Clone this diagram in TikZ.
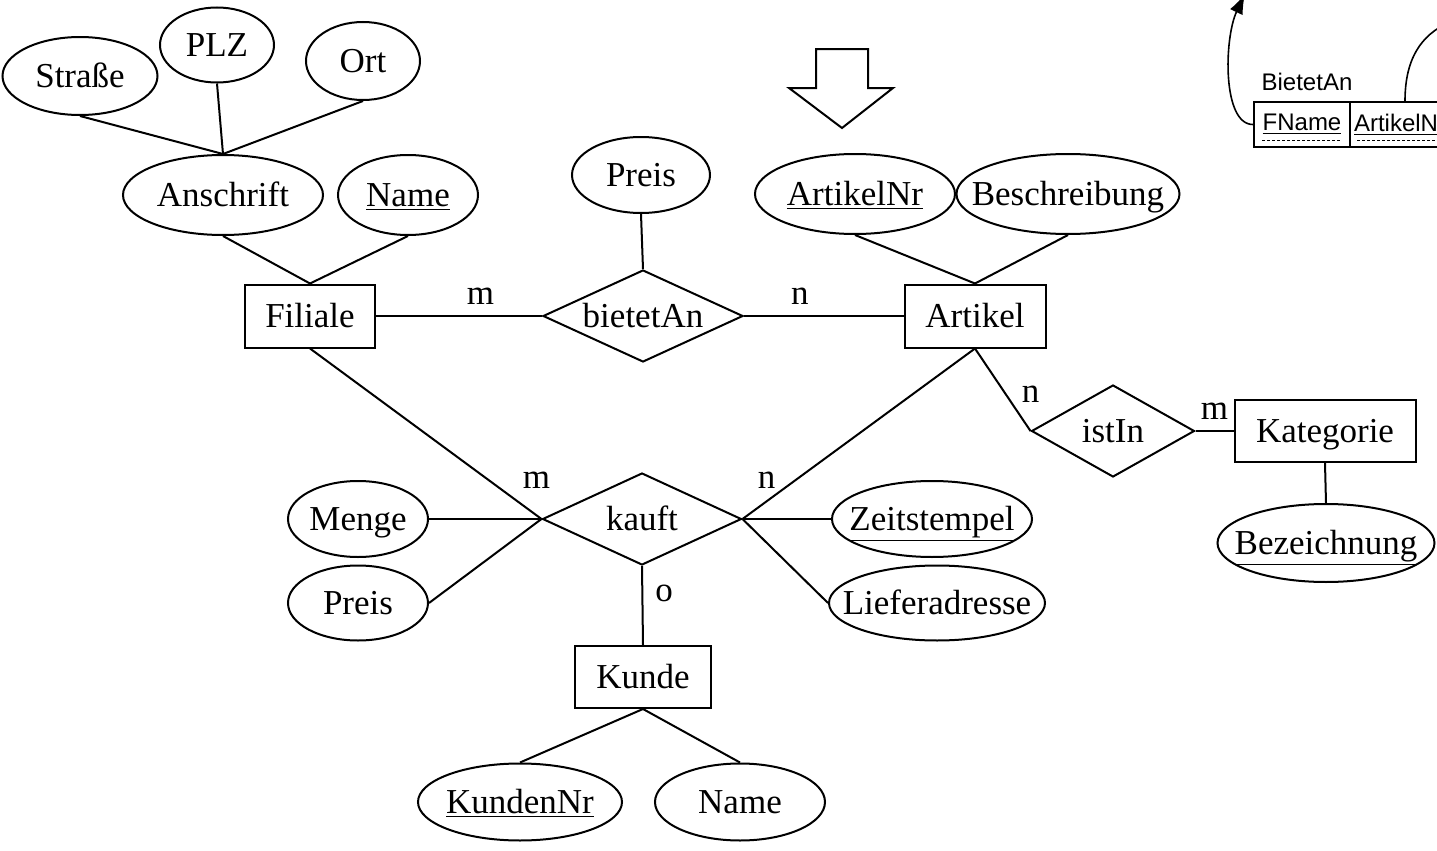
\documentclass[tikz,border=0pt]{standalone}
\usepackage{fontspec}
\setmainfont{Liberation Serif}
\newfontfamily\tabfont{Liberation Sans}
\usetikzlibrary{shapes.geometric}
\usetikzlibrary{arrows.meta}

\begin{document}
\begin{tikzpicture}[x=0.5pt,y=-0.5pt,line width=1pt,
    font=\fontsize{17.5}{21}\selectfont,
    % text of zero width, so the shape keeps its own size
    fixsize/.style={execute at begin node={\hbox to 0pt\bgroup\hss},
        execute at end node={\hss\egroup}},
    same base/.style={text height=14pt,text depth=3pt},
    attr/.style={draw,ellipse,inner sep=0pt,minimum height=39pt,fixsize,same base},
    entity/.style={draw,rectangle,inner sep=0pt,minimum height=31.5pt,same base},
    rel/.style={draw,diamond,inner sep=0pt,aspect=2.2,minimum height=46pt,fixsize,same base},
    card/.style={inner sep=2pt},
    tabcell/.style={draw,rectangle,line width=0.8pt,inner sep=0pt,minimum height=22.5pt,
        font=\tabfont\fontsize{12}{14}\selectfont}]
\useasboundingbox (0,0) rectangle (1437,851);
\clip (0,0) rectangle (1437,851);

% Filiale
\node[attr,minimum width=77.5pt] (strasse) at (80,76) {Straße};
\node[attr,minimum width=57pt,minimum height=37.5pt] (plz) at (217,45) {PLZ};
\node[attr,minimum width=57pt] (ort) at (363,61) {Ort};
\node[attr,minimum width=100pt,minimum height=40pt] (anschrift) at (223,195) {Anschrift};
\node[attr,minimum width=70pt,minimum height=40pt] (fname) at (408,195) {\underline{Name}};
\node[entity,minimum width=65pt] (filiale) at (310,316) {Filiale};

% bietetAn / Artikel
\node[attr,minimum width=69pt,minimum height=38pt] (preisA) at (641,175) {Preis};
\node[rel,minimum width=100pt] (bietet) at (643,316) {bietetAn};
\node[attr,minimum width=100pt,minimum height=40pt] (artnr) at (855,194) {\underline{ArtikelNr}};
\node[attr,minimum width=111.5pt,minimum height=40pt] (beschr) at (1068,194) {Beschreibung};
\node[entity,minimum width=70.5pt] (artikel) at (975,316) {Artikel};

% Kategorie
\node[rel,minimum width=81.5pt] (istin) at (1113,431) {istIn};
\node[entity,minimum width=90.5pt,minimum height=31pt] (kategorie) at (1325,431) {Kategorie};
\node[attr,minimum width=108.5pt] (bez) at (1326,543) {\underline{Bezeichnung}};

% kauft / Kunde
\node[rel,minimum width=99.5pt] (kauft) at (642,519) {kauft};
\node[attr,minimum width=70pt,minimum height=38pt] (menge) at (358,519) {Menge};
\node[attr,minimum width=70pt,minimum height=37.5pt] (preisB) at (358,603) {Preis};
\node[attr,minimum width=100pt,minimum height=38pt] (zeit) at (932,519) {\underline{Zeitstempel}};
\node[attr,minimum width=108pt,minimum height=37.5pt] (liefer) at (937,603) {Lieferadresse};
\node[entity,minimum width=68pt,minimum height=31pt] (kunde) at (643,677) {Kunde};
\node[attr,minimum width=102pt,minimum height=38.5pt] (kdnr) at (520,802) {\underline{KundenNr}};
\node[attr,minimum width=85pt,minimum height=38.5pt] (kname) at (740,802) {Name};

% attributes
\foreach \a/\b in {strasse/anschrift,plz/anschrift,ort/anschrift,
    anschrift/filiale,fname/filiale,preisA/bietet,artnr/artikel,
    beschr/artikel,kategorie/bez,kunde/kdnr,kunde/kname}
    \draw (\a.south) -- (\b.north);
\draw (menge.east) -- (kauft.west);
\draw (preisB.east) -- (kauft.west);
\draw (zeit.west) -- (kauft.east);
\draw (liefer.west) -- (kauft.east);

% relationships
\draw (filiale.east) -- node[card,pos=0.63,above=3.5pt] {m} (bietet.west);
\draw (bietet.east) -- node[card,pos=0.35,above=3.5pt] {n} (artikel.west);
\draw (filiale.south) -- node[card,pos=1,above=13pt,xshift=-2.5pt] {m} (kauft.west);
\draw (artikel.south) -- node[card,pos=1,above=13pt,xshift=12pt] {n} (kauft.east);
\draw (artikel.south) -- node[card,pos=1,above=12pt] {n} (istin.west);
\draw (istin.east) -- node[card,above=3.5pt] {m} (kategorie.west);
\draw (kauft.south) -- node[card,pos=0.35,right=4pt] {o} (kunde.north);

% big arrow
\draw[line join=miter] (816,49) -- (868,49) -- (868,88) -- (893,88) -- (842,128)
    -- (789,88) -- (816,88) -- cycle;

% relation schema, cut at the edge
\node[font=\tabfont\fontsize{12}{14}\selectfont,inner sep=0pt] (tname) at (1307,82) {BietetAn};
\node[tabcell,minimum width=48pt] (fnamecell) at (1302,124.5) {\underline{FName}};
\node[tabcell,minimum width=50pt] (artnrcell) at (1400,124.5) {\underline{ArtikelNr}};
\draw[line width=0.5pt,dash pattern=on 1.5pt off 1pt] (1262,140) -- (1342,140)
    (1357,140) -- (1450,140);
\draw[line width=0.8pt,-{Latex[length=10pt,width=7pt]}] (fnamecell.west)
    .. controls (1222,125) and (1224,38) .. (1245,-6);
\draw[line width=0.8pt] ([xshift=2.5pt]artnrcell.north)
    .. controls (1405,60) and (1420,35) .. (1450,22);

\end{tikzpicture}
\end{document}
